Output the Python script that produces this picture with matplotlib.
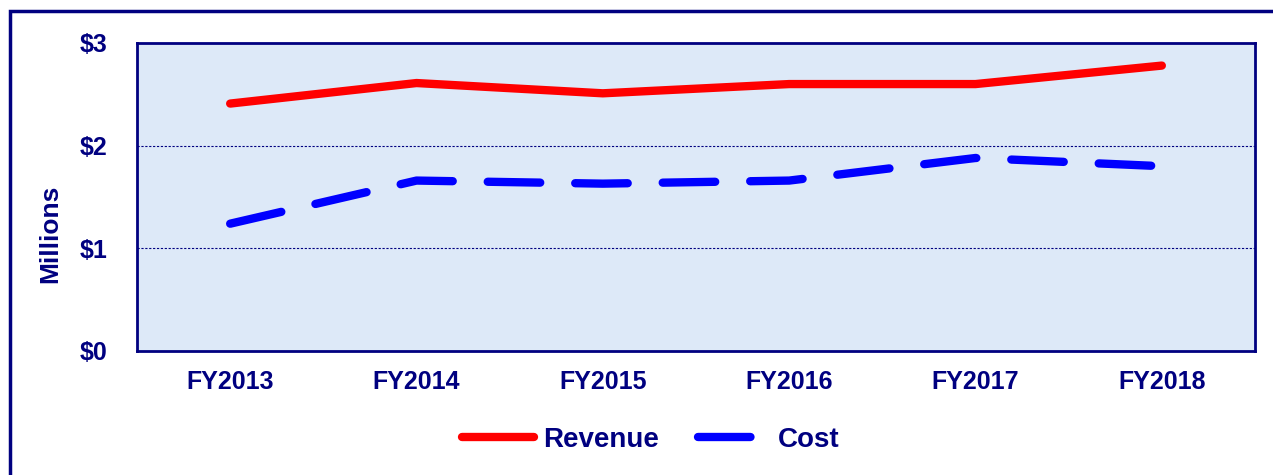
import matplotlib.pyplot as plt
import matplotlib.patches as patches
import numpy as np

# Data (millions of dollars)
years = ['FY2013', 'FY2014', 'FY2015', 'FY2016', 'FY2017', 'FY2018']
revenue = [2.41, 2.61, 2.51, 2.60, 2.60, 2.78]
cost = [1.24, 1.66, 1.63, 1.66, 1.88, 1.80]
y_ticks = [0, 1, 2, 3]
y_labels = ['$0', '$1', '$2', '$3']

navy = '#000080'
plt.rcParams['font.family'] = ['Liberation Sans', 'DejaVu Sans']
plt.rcParams['font.weight'] = 'bold'

fig = plt.figure(figsize=(12.73, 4.75), dpi=100)
ax = fig.add_axes([137 / 1273, 1 - 351 / 475, (1255 - 137) / 1273, (351 - 43) / 475])

# outer navy frame (left and top edges visible, rest runs off the image)
fig.patches.append(patches.Rectangle((10 / 1273, -0.1), 1.2, 1 - 11 / 475 + 0.1,
                                     transform=fig.transFigure, fill=False,
                                     edgecolor=navy, linewidth=2.5))

ax.set_facecolor('#dde9f8')
x = np.arange(len(years))

lw = 6
ax.plot(x, revenue, color='#ff0000', linewidth=lw, solid_capstyle='round',
        solid_joinstyle='round', label='Revenue', zorder=3)
ax.plot(x, cost, color='#0000ff', linewidth=lw, dash_capstyle='round',
        dash_joinstyle='round', dashes=(6.3, 4.2), label='Cost', zorder=3)

ax.set_xlim(-0.5, len(years) - 0.5)
ax.set_ylim(0, 3)
ax.set_xticks(x)
ax.set_xticklabels(years)
ax.set_yticks(y_ticks)
ax.set_yticklabels(y_labels)
ax.tick_params(axis='both', length=0, labelsize=18, labelcolor=navy)
ax.tick_params(axis='y', pad=21)
ax.tick_params(axis='x', pad=14)

for v in [1, 2]:
    ax.axhline(v, color=navy, linewidth=0.8, linestyle=(0, (2, 1.5)), zorder=2)

for s in ax.spines.values():
    s.set_color(navy)
    s.set_linewidth(2)

fig.text(50 / 1273, 1 - 234 / 475, 'Millions', rotation=90, ha='center', va='center',
         fontsize=19, color=navy, fontweight='bold')

leg = fig.legend(loc='center', bbox_to_anchor=(651 / 1273, 1 - 440 / 475), ncol=2,
                 frameon=False, fontsize=20, handlelength=2.6, columnspacing=1.4,
                 handletextpad=0.3)
for t in leg.get_texts():
    t.set_color(navy)

plt.savefig('out.png', dpi=100)
